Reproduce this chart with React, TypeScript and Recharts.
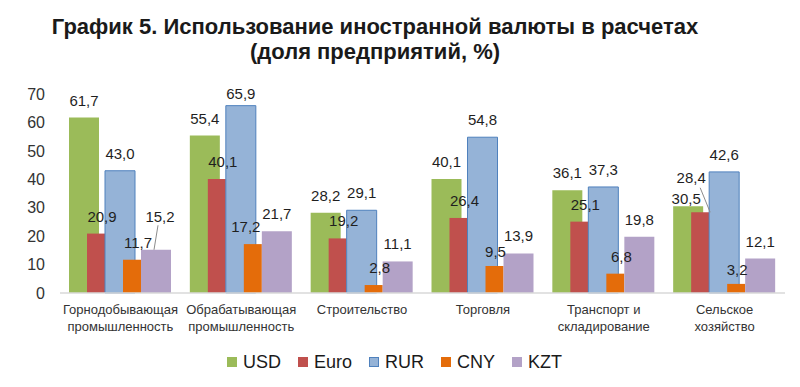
import { BarChart, Bar, XAxis, YAxis, Legend, LabelList } from 'recharts';

const categories = [
  'Горнодобывающая\nпромышленность',
  'Обрабатывающая\nпромышленность',
  'Строительство',
  'Торговля',
  'Транспорт и\nскладирование',
  'Сельское\nхозяйство',
];

const usd = [61.7, 55.4, 28.2, 40.1, 36.1, 30.5];
const euro = [20.9, 40.1, 19.2, 26.4, 25.1, 28.4];
const rur = [43.0, 65.9, 29.1, 54.8, 37.3, 42.6];
const cny = [11.7, 17.2, 2.8, 9.5, 6.8, 3.2];
const kzt = [15.2, 21.7, 11.1, 13.9, 19.8, 12.1];

const yTicks = [0, 10, 20, 30, 40, 50, 60, 70];

const data = categories.map((name, i) => ({
  name,
  USD: usd[i],
  Euro: euro[i],
  RUR: rur[i],
  CNY: cny[i],
  KZT: kzt[i],
}));

const series = [
  { key: 'USD', fill: '#9BBB59', stroke: 'none', narrow: false },
  { key: 'Euro', fill: '#C0504D', stroke: 'none', narrow: true },
  { key: 'RUR', fill: '#95B3D7', stroke: '#4F81BD', narrow: false },
  { key: 'CNY', fill: '#E46C0A', stroke: 'none', narrow: true },
  { key: 'KZT', fill: '#B3A2C7', stroke: 'none', narrow: false },
];

// labels that were moved by hand in the original (dx, dy, leader line)
const labelNudge: Record<string, { dx: number; dy: number; leader?: boolean }> = {
  'KZT-0': { dx: 4, dy: -16, leader: true },
  'CNY-1': { dx: -13, dy: 0 },
  'RUR-1': { dx: 0, dy: 5 },
  'CNY-3': { dx: -5, dy: 3 },
  'CNY-5': { dx: -5, dy: 3 },
  'USD-5': { dx: -2, dy: 10 },
  'Euro-5': { dx: -15, dy: -17, leader: true },
};

const FONT = '"Liberation Sans", Arial, sans-serif';

const fmt = (v: number) => v.toFixed(1).replace('.', ',');

const NarrowBar = (props: any) => {
  const { x, y, width, height, fill } = props;
  if (!height || height <= 0) return null;
  return <rect x={x} y={y} width={width * 0.6} height={height} fill={fill} />;
};

const makeLabel = (key: string) => (props: any) => {
  const { x, y, width, value, index } = props;
  const n = labelNudge[`${key}-${index}`] || { dx: 0, dy: 0 };
  const cx = x + width / 2 + n.dx;
  const cy = y - 17.5 + n.dy;
  return (
    <g>
      {n.leader && key === 'KZT' && (
        <line x1={cx - 2} y1={cy + 9} x2={cx - 6} y2={y} stroke="#8c8c8c" strokeWidth={1} />
      )}
      {n.leader && key === 'Euro' && (
        <line x1={cx + 9} y1={cy + 10} x2={x + 19} y2={y} stroke="#8c8c8c" strokeWidth={1} />
      )}
      <text x={cx} y={cy} textAnchor="middle" dominantBaseline="central" fontSize={15} fill="#1f1f1f" fontFamily={FONT}>
        {fmt(value)}
      </text>
    </g>
  );
};

const CategoryTick = (props: any) => {
  const { x, y, payload } = props;
  const lines = String(payload.value).split('\n');
  return (
    <text x={x} y={y} textAnchor="middle" fontSize={13} fill="#333" fontFamily={FONT}>
      {lines.map((l, i) => (
        <tspan key={i} x={x} dy={i === 0 ? 13 : 17}>
          {l}
        </tspan>
      ))}
    </text>
  );
};

const renderLegend = () => (
  <div style={{ display: 'flex', alignItems: 'center', paddingLeft: 227, height: 22, fontFamily: FONT }}>
    {series.map((s) => (
      <div key={s.key} style={{ display: 'flex', alignItems: 'center', marginRight: 17 }}>
        <div
          style={{
            width: 10,
            height: 10,
            background: s.fill,
            boxSizing: 'border-box',
            border: s.stroke !== 'none' ? `1px solid ${s.stroke}` : 'none',
            marginRight: 6,
          }}
        />
        <span style={{ fontSize: 18, color: '#1a1a1a', lineHeight: '22px' }}>{s.key}</span>
      </div>
    ))}
  </div>
);

export default function App() {
  return (
    <div style={{ position: 'absolute', left: 0, top: 0, width: 800, height: 387, background: '#fff', fontFamily: FONT }}>
      <div
        style={{
          position: 'absolute',
          left: 0,
          top: 14,
          width: 750,
          textAlign: 'center',
          fontWeight: 'bold',
          fontSize: 22,
          lineHeight: '25px',
          color: '#1a1a1a',
        }}
      >
        <div>График 5. Использование иностранной валюты в расчетах</div>
        <div>(доля предприятий, %)</div>
      </div>
      <BarChart
        width={800}
        height={387}
        data={data}
        margin={{ top: 94, right: 15, bottom: 34, left: 0 }}
        barSize={30}
        barGap={-12}
        style={{ position: 'absolute', left: 0, top: 0 }}
      >
        <XAxis
          dataKey="name"
          height={60}
          tickLine={false}
          axisLine={{ stroke: '#d9d9d9', strokeWidth: 1.5 }}
          tick={<CategoryTick />}
          interval={0}
        />
        <YAxis
          width={60}
          domain={[0, 70]}
          ticks={yTicks}
          axisLine={false}
          tickLine={false}
          tickMargin={9}
          tick={{ fontSize: 16, fill: '#333', fontFamily: FONT }}
        />
        <Legend
          layout="horizontal"
          verticalAlign="middle"
          align="center"
          content={renderLegend}
          wrapperStyle={{ top: 351, left: 0, width: 800, height: 22 }}
        />
        {series.map((s) => (
          <Bar
            key={s.key}
            dataKey={s.key}
            fill={s.fill}
            stroke={s.stroke}
            strokeWidth={s.stroke !== 'none' ? 1 : 0}
            shape={s.narrow ? <NarrowBar /> : undefined}
            isAnimationActive={false}
          >
            <LabelList dataKey={s.key} content={makeLabel(s.key)} />
          </Bar>
        ))}
      </BarChart>
    </div>
  );
}
